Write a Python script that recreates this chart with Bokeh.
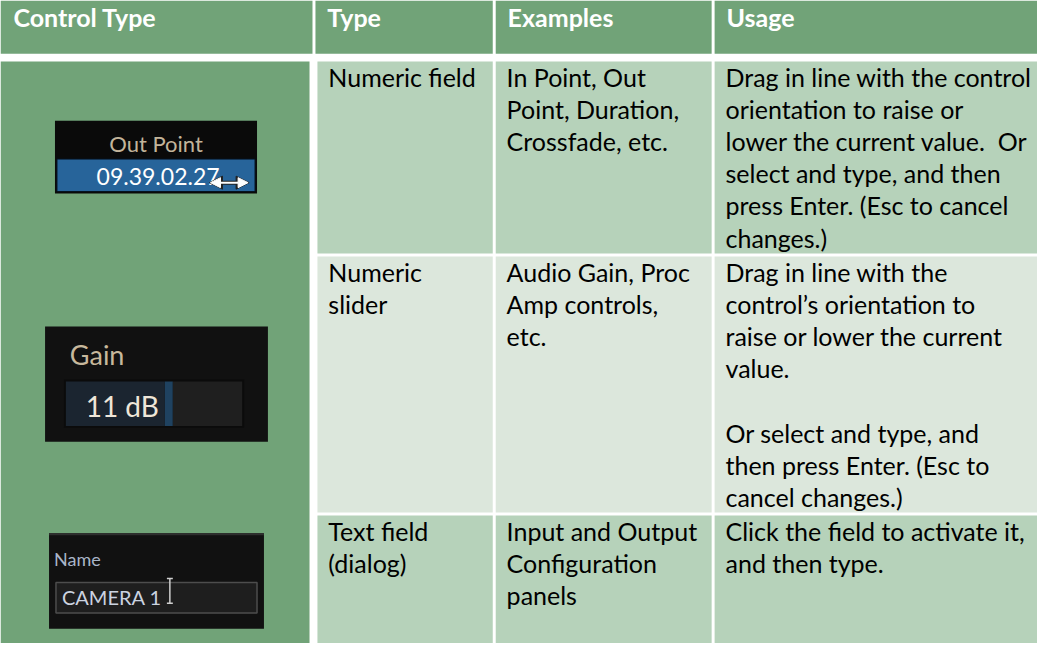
from bokeh.plotting import figure
from bokeh.models import Range1d, Arrow, NormalHead
from bokeh.core.properties import value
from bokeh.embed import file_html
from bokeh.resources import INLINE

# ---------------- content ----------------
headers = ["Control Type", "Type", "Examples", "Usage"]
type_col = [["Numeric field"], ["Numeric", "slider"], ["Text field", "(dialog)"]]
examples_col = [["In Point, Out", "Point, Duration,", "Crossfade, etc."],
                ["Audio Gain, Proc", "Amp controls,", "etc."],
                ["Input and Output", "Configuration", "panels"]]
usage_col = [["Drag in line with the control", "orientation to raise or",
              "lower the current value.\u00a0 Or", "select and type, and then",
              "press Enter. (Esc to cancel", "changes.)"],
             ["Drag in line with the", "control\u2019s orientation to",
              "raise or lower the current", "value.", "",
              "Or select and type, and", "then press Enter. (Esc to",
              "cancel changes.)"],
             ["Click the field to activate it,", "and then type."]]
widget_labels = ["Out Point", "Gain", "Name"]
widget_values = ["09.39.02.27", "11 dB", "CAMERA 1"]

# ---------------- layout ----------------
DARK = "#71A378"
LIGHT = "#B6D2BA"
LIGHTER = "#DCE7DC"
FONT = value("Lato")
K = 0.33  # baseline correction (fraction of font size)

hdr_top, hdr_bot = 6, 60
hdr_l = [6, 324, 506, 727]
hdr_r = [321, 503, 724, 1053]
body_l = [326, 506, 727]
body_r = [503, 724, 1053]
row_t = [68, 266, 529]
row_b = [263, 526, 659]
row_fill = [LIGHT, LIGHTER, LIGHT]
LINE = 32.6
FIRST = 24
PAD = 12

p = figure(width=1037, height=643, x_range=Range1d(6, 1053), y_range=Range1d(659, 6),
           output_backend="svg", toolbar_location=None, min_border=0)
p.axis.visible = False
p.grid.visible = False
p.outline_line_color = None
p.background_fill_color = "white"
p.border_fill_color = "white"


def txt(xs, ys, texts, size, color, bold=False, align="left"):
    p.text(x=xs, y=[y - K * size for y in ys], text=texts, text_font=FONT,
           text_font_size=f"{size}px", text_font_style="bold" if bold else "normal",
           text_color=color, text_align=align, text_baseline="alphabetic")


# header cells
p.quad(left=hdr_l, right=hdr_r, top=[hdr_top] * 4, bottom=[hdr_bot] * 4,
       fill_color=DARK, line_color=None)
txt([19] + [l + PAD for l in hdr_l[1:]], [31] * 4, headers, 25, "white", bold=True)

# first column body
p.quad(left=[6], right=[318], top=[68], bottom=[659], fill_color=DARK, line_color=None)

# body cells
ql, qr, qt, qb, qc = [], [], [], [], []
for r in range(3):
    for c in range(3):
        ql.append(body_l[c]); qr.append(body_r[c])
        qt.append(row_t[r]); qb.append(row_b[r]); qc.append(row_fill[r])
p.quad(left=ql, right=qr, top=qt, bottom=qb, fill_color=qc, line_color=None)

tx, ty, tt = [], [], []
for c, col in enumerate([type_col, examples_col, usage_col]):
    for r, lines in enumerate(col):
        for i, s in enumerate(lines):
            tx.append(body_l[c] + PAD - 1)
            ty.append(row_t[r] + FIRST + LINE * i)
            tt.append(s)
txt(tx, ty, tt, 25, "black")

# ---------- widget 1: Out Point ----------
p.quad(left=[61], right=[265], top=[128], bottom=[202], fill_color="#0A0A0A", line_color=None)
p.quad(left=[63], right=[263], top=[167], bottom=[200], fill_color="#27649A",
       line_color="#06121E", line_width=1)
txt([163], [158], [widget_labels[0]], 22, "#C2B49A", align="center")
txt([103], [192], [widget_values[0]], 23, "#FFFFFF")
p.add_layout(Arrow(x_start=217, y_start=191, x_end=257, y_end=191, line_color="#222222",
                   line_width=4,
                   start=NormalHead(size=13, fill_color="#222222", line_color="#222222"),
                   end=NormalHead(size=13, fill_color="#222222", line_color="#222222")))
p.add_layout(Arrow(x_start=218, y_start=191, x_end=256, y_end=191, line_color="white",
                   line_width=2,
                   start=NormalHead(size=10, fill_color="white", line_color="white"),
                   end=NormalHead(size=10, fill_color="white", line_color="white")))

# ---------- widget 2: Gain ----------
p.quad(left=[51], right=[276], top=[337], bottom=[454], fill_color="#111111", line_color=None)
txt([76], [374], [widget_labels[1]], 27, "#C7B89C")
p.quad(left=[70], right=[252], top=[391], bottom=[440], fill_color="#0B0B0B", line_color=None)
p.quad(left=[72, 172, 180], right=[172, 180, 250], top=[393] * 3, bottom=[438] * 3,
       fill_color=["#1B2530", "#1F4260", "#1F1F1F"], line_color=None)
txt([92], [427], [widget_values[1]], 28, "#EEE6D8")

# ---------- widget 3: Name ----------
p.quad(left=[55], right=[272], top=[547], bottom=[644], fill_color="#111111", line_color=None)
p.quad(left=[55], right=[272], top=[547], bottom=[549], fill_color="#2E2E2E", line_color=None)
txt([60], [579], [widget_labels[2]], 18, "#A9B5C8")
p.quad(left=[62], right=[265], top=[597], bottom=[628], fill_color="#1E1E1E",
       line_color="#4D4D4D", line_width=1.5)
txt([68], [618], [widget_values[2]], 20, "#CBD3E0")
p.segment(x0=[177, 174, 174], y0=[593, 593, 618], x1=[177, 180, 180], y1=[618, 593, 618],
          line_color="#CFCFCF", line_width=1.5)

open("out.html", "w").write(file_html(p, INLINE))
